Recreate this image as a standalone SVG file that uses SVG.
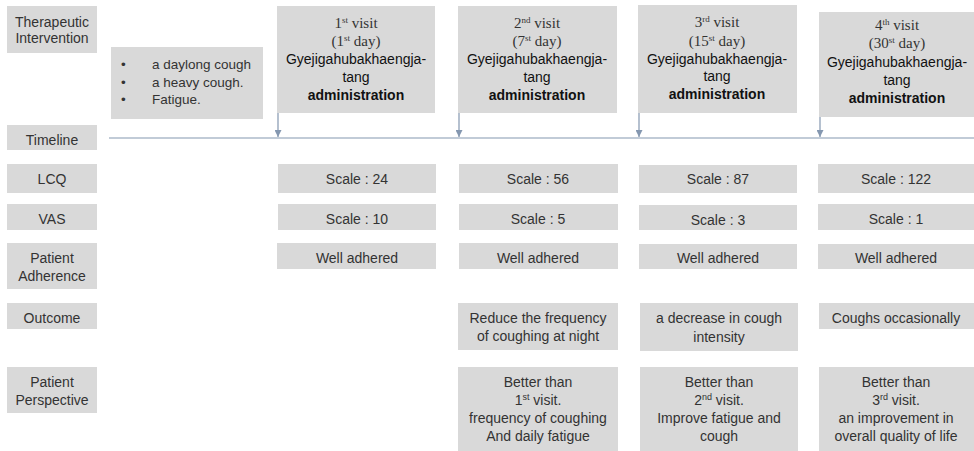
<svg xmlns="http://www.w3.org/2000/svg" width="974" height="451" viewBox="0 0 974 451">
<defs>
<style>
.b{fill:#d9d9d9}
.t{font-family:"Liberation Sans",Arial,sans-serif;font-size:14px;fill:#333;text-anchor:middle}
.s{font-family:"Liberation Serif","Times New Roman",serif;font-size:15px;fill:#333;text-anchor:middle}
.k{fill:#111}
.bd{font-weight:bold;fill:#111}
.sup{font-size:9px}
.ln{stroke:#8497b0;stroke-width:1.2;fill:none}
</style>
<marker id="ah" viewBox="0 0 10 10" refX="10" refY="5" markerWidth="7" markerHeight="7" orient="auto" markerUnits="userSpaceOnUse">
<path d="M0,0 L10,5 L0,10 z" fill="#8497b0"/>
</marker>
</defs>
<rect width="974" height="451" fill="#fff"/>

<g id="labels">
<g id="lbl-therapeutic"><rect class="b" x="7" y="6" width="90" height="47"/><text class="t" x="52" y="27">Therapeutic</text><text class="t" x="52" y="43">Intervention</text></g>
<g id="lbl-timeline"><rect class="b" x="7" y="125" width="90" height="25"/><text class="t" x="52" y="145">Timeline</text></g>
<g id="lbl-lcq"><rect class="b" x="7" y="164" width="90" height="29"/><text class="t" x="52" y="184">LCQ</text></g>
<g id="lbl-vas"><rect class="b" x="7" y="204" width="90" height="26"/><text class="t" x="52" y="224">VAS</text></g>
<g id="lbl-adherence"><rect class="b" x="7" y="243" width="90" height="46"/><text class="t" x="52" y="263">Patient</text><text class="t" x="52" y="281">Adherence</text></g>
<g id="lbl-outcome"><rect class="b" x="7" y="303" width="90" height="26"/><text class="t" x="52" y="323">Outcome</text></g>
<g id="lbl-perspective"><rect class="b" x="7" y="367" width="90" height="46"/><text class="t" x="52" y="387">Patient</text><text class="t" x="52" y="405">Perspective</text></g>
</g>

<g id="symptoms">
<rect class="b" x="111" y="47" width="152" height="72"/>
<g class="t" style="text-anchor:start;font-size:13.5px">
<text x="121" y="69">•</text><text x="152" y="69">a daylong cough</text>
<text x="121" y="87">•</text><text x="152" y="87">a heavy cough.</text>
<text x="121" y="104">•</text><text x="152" y="104">Fatigue.</text>
</g>
</g>

<g id="connectors">
<line class="ln" x1="109" y1="138" x2="974" y2="138"/>
<line class="ln" x1="278" y1="113" x2="278" y2="137" marker-end="url(#ah)"/>
<line class="ln" x1="459" y1="113" x2="459" y2="137" marker-end="url(#ah)"/>
<line class="ln" x1="639" y1="113" x2="639" y2="137" marker-end="url(#ah)"/>
<line class="ln" x1="820" y1="117" x2="820" y2="137" marker-end="url(#ah)"/>
</g>

<g id="visit1">
<rect class="b" x="277" y="6" width="158" height="107"/>
<text class="s" x="356" y="28">1<tspan class="sup" dy="-5">st</tspan><tspan dy="5"> visit</tspan></text>
<text class="s" x="356" y="46">(1<tspan class="sup" dy="-5">st</tspan><tspan dy="5"> day)</tspan></text>
<text class="t k" x="356" y="64">Gyejigahubakhaengja-</text>
<text class="t k" x="356" y="82">tang</text>
<text class="t bd" x="356" y="100">administration</text>
</g>
<g id="visit2">
<rect class="b" x="458" y="6" width="159" height="107"/>
<text class="s" x="537" y="28">2<tspan class="sup" dy="-5">nd</tspan><tspan dy="5"> visit</tspan></text>
<text class="s" x="537" y="46">(7<tspan class="sup" dy="-5">st</tspan><tspan dy="5"> day)</tspan></text>
<text class="t k" x="537" y="64">Gyejigahubakhaengja-</text>
<text class="t k" x="537" y="82">tang</text>
<text class="t bd" x="537" y="100">administration</text>
</g>
<g id="visit3">
<rect class="b" x="638" y="5" width="159" height="108"/>
<text class="s" x="717" y="27">3<tspan class="sup" dy="-5">rd</tspan><tspan dy="5"> visit</tspan></text>
<text class="s" x="717" y="46">(15<tspan class="sup" dy="-5">st</tspan><tspan dy="5"> day)</tspan></text>
<text class="t k" x="717" y="64">Gyejigahubakhaengja-</text>
<text class="t k" x="717" y="81">tang</text>
<text class="t bd" x="717" y="99">administration</text>
</g>
<g id="visit4">
<rect class="b" x="819" y="12" width="155" height="105"/>
<text class="s" x="897" y="30">4<tspan class="sup" dy="-5">th</tspan><tspan dy="5"> visit</tspan></text>
<text class="s" x="897" y="48">(30<tspan class="sup" dy="-5">st</tspan><tspan dy="5"> day)</tspan></text>
<text class="t k" x="897" y="67">Gyejigahubakhaengja-</text>
<text class="t k" x="897" y="85">tang</text>
<text class="t bd" x="897" y="103">administration</text>
</g>

<g id="lcq">
<g id="lcq1"><rect class="b" x="278" y="164" width="158" height="29"/><text class="t" x="357" y="184">Scale : 24</text></g>
<g id="lcq2"><rect class="b" x="459" y="164" width="159" height="29"/><text class="t" x="538" y="184">Scale : 56</text></g>
<g id="lcq3"><rect class="b" x="639" y="165" width="158" height="28"/><text class="t" x="718" y="184">Scale : 87</text></g>
<g id="lcq4"><rect class="b" x="818" y="164" width="156" height="29"/><text class="t" x="896" y="184">Scale : 122</text></g>
</g>
<g id="vas">
<g id="vas1"><rect class="b" x="278" y="204" width="158" height="26"/><text class="t" x="357" y="224">Scale : 10</text></g>
<g id="vas2"><rect class="b" x="459" y="204" width="159" height="26"/><text class="t" x="538" y="224">Scale : 5</text></g>
<g id="vas3"><rect class="b" x="639" y="205" width="158" height="25"/><text class="t" x="718" y="225">Scale : 3</text></g>
<g id="vas4"><rect class="b" x="818" y="204" width="156" height="26"/><text class="t" x="896" y="224">Scale : 1</text></g>
</g>
<g id="adherence">
<g id="adh1"><rect class="b" x="277" y="243" width="159" height="26"/><text class="t" x="357" y="263">Well adhered</text></g>
<g id="adh2"><rect class="b" x="459" y="243" width="159" height="26"/><text class="t" x="538" y="263">Well adhered</text></g>
<g id="adh3"><rect class="b" x="639" y="244" width="158" height="25"/><text class="t" x="718" y="263">Well adhered</text></g>
<g id="adh4"><rect class="b" x="818" y="244" width="156" height="25"/><text class="t" x="896" y="263">Well adhered</text></g>
</g>
<g id="outcome">
<g id="out2"><rect class="b" x="458" y="303" width="160" height="47"/><text class="t" x="538" y="323">Reduce the frequency</text><text class="t" x="538" y="341">of coughing at night</text></g>
<g id="out3"><rect class="b" x="640" y="303" width="158" height="48"/><text class="t" x="719" y="323">a decrease in cough</text><text class="t" x="719" y="342">intensity</text></g>
<g id="out4"><rect class="b" x="819" y="303" width="155" height="26"/><text class="t" x="896" y="323">Coughs occasionally</text></g>
</g>
<g id="perspective">
<g id="per2"><rect class="b" x="458" y="367" width="160" height="84"/>
<text class="t" x="538" y="387">Better than</text>
<text class="t" x="538" y="405">1<tspan class="sup" dy="-5">st</tspan><tspan dy="5"> visit.</tspan></text>
<text class="t" x="538" y="423">frequency of coughing</text>
<text class="t" x="538" y="441">And daily fatigue</text></g>
<g id="per3"><rect class="b" x="640" y="367" width="158" height="84"/>
<text class="t" x="719" y="387">Better than</text>
<text class="t" x="719" y="405">2<tspan class="sup" dy="-5">nd</tspan><tspan dy="5"> visit.</tspan></text>
<text class="t" x="719" y="423">Improve fatigue and</text>
<text class="t" x="719" y="441">cough</text></g>
<g id="per4"><rect class="b" x="819" y="367" width="155" height="84"/>
<text class="t" x="896" y="387">Better than</text>
<text class="t" x="896" y="405">3<tspan class="sup" dy="-5">rd</tspan><tspan dy="5"> visit.</tspan></text>
<text class="t" x="896" y="423">an improvement in</text>
<text class="t" x="896" y="441">overall quality of life</text></g>
</g>
</svg>
